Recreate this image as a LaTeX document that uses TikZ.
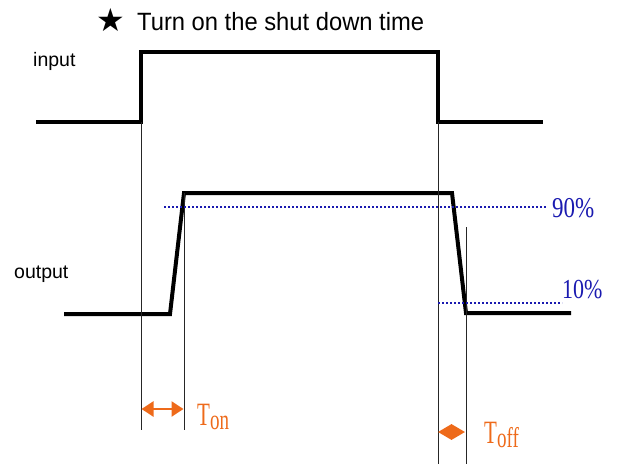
\documentclass[tikz,border=0pt]{standalone}
\usepackage{fontspec}
\setmainfont{Liberation Sans}
\newfontfamily\tnr{Liberation Serif}
\newfontfamily\dejavu{DejaVu Sans}
\usetikzlibrary{arrows.meta,shapes.geometric}
\definecolor{orng}{HTML}{EE6A1A}
\definecolor{pblue}{HTML}{1A1AB0}
\begin{document}
\begin{tikzpicture}[x=1pt,y=-1pt,
  wave/.style={line width=4pt,line join=miter},
  guide/.style={line width=1pt,black!85},
  pct/.style={pblue,line width=2.2pt,dash pattern=on 2pt off 2pt},
  lbl/.style={inner sep=0pt,font=\fontsize{19.5}{19.5}\selectfont},
  tlbl/.style={inner sep=0pt,orng},
  plbl/.style={inner sep=0pt,pblue}]
\useasboundingbox (0,0) rectangle (619,464);
% input waveform
\draw[wave] (36,122) -- (141,122) -- (141,52) -- (438,52) -- (438,122) -- (543,122);
% output waveform
\draw[wave] (64,314) -- (170,314) -- (184,193) -- (452,193) -- (466,313) -- (571,313);
% guide lines
\draw[guide] (141,122) -- (141,430);
\draw[guide] (184,193) -- (184,430);
\draw[guide] (438,122) -- (438,464);
\draw[guide] (466,227) -- (466,464);
% percentage lines
\draw[pct] (164,207) -- (546,207);
\draw[pct] (438,303) -- (562,303);
\node[plbl,anchor=base west] (p90) at (552,217) {\tnr\scalebox{1}[1.25]{\fontsize{23}{23}\selectfont 90\%}};
\node[plbl,anchor=base west] (p10) at (562,298) {\tnr\scalebox{1}[1.25]{\fontsize{22}{22}\selectfont 10\%}};
% labels
\node[anchor=base west,inner sep=0pt] (star) at (96,31) {\dejavu\fontsize{32}{32}\selectfont ★};
\node[anchor=base west,inner sep=0pt] (title) at (137,30) {\scalebox{0.95}[1]{\fontsize{25}{25}\selectfont Turn on the shut down time}};
\node[lbl,anchor=base west] (input) at (33,66) {input};
\node[lbl,anchor=base west] (output) at (14,278) {output};
% Ton
\coordinate (ona) at (141.5,409);
\coordinate (onb) at (183.5,409);
\draw[orng,line width=2.4pt,{Triangle[length=12pt,width=15pt]}-{Triangle[length=12pt,width=15pt]}] (ona) -- (onb);
\node[tlbl,anchor=base west] (ton) at (197,425) {\tnr\scalebox{1}[1.55]{\fontsize{21}{21}\selectfont T}\raisebox{-4pt}{\scalebox{1}[1.5]{\fontsize{19}{19}\selectfont on}}};
% Toff
\node[diamond,fill=orng,inner sep=0pt,minimum width=27pt,minimum height=16pt] (dm) at (451.5,432) {};
\node[tlbl,anchor=base west] (toff) at (484,443) {\tnr\scalebox{1}[1.55]{\fontsize{21}{21}\selectfont T}\raisebox{-4pt}{\scalebox{1}[1.5]{\fontsize{19}{19}\selectfont off}}};
\end{tikzpicture}
\end{document}
